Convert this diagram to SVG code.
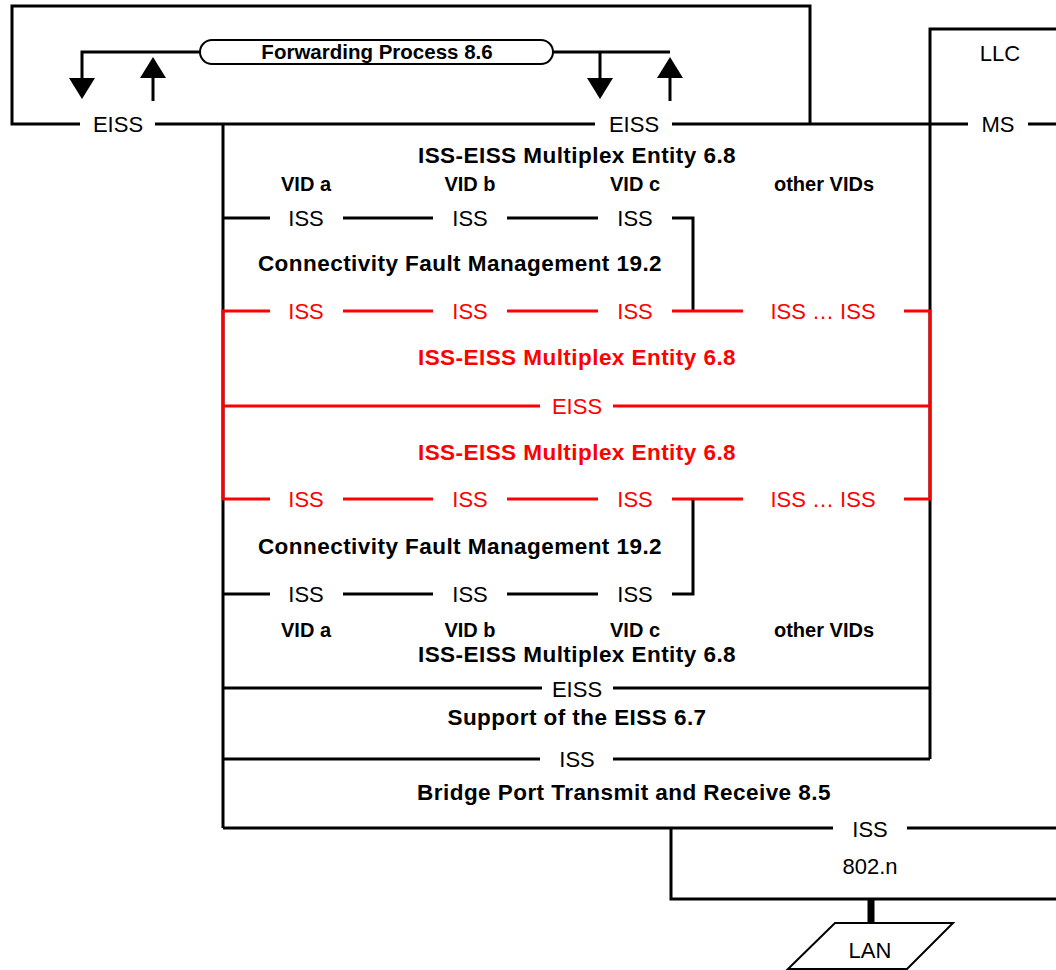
<svg xmlns="http://www.w3.org/2000/svg" width="1056" height="970" viewBox="0 0 1056 970">
<style>
text{font-family:"Liberation Sans",Arial,sans-serif;text-anchor:middle}
.n{font-size:22px}
.b{font-size:22.5px;font-weight:bold;letter-spacing:0.45px}
.v{font-size:20px;font-weight:bold}
.f{font-size:20.5px;font-weight:bold}
.r{fill:#ff0000}
.k{stroke:#000;stroke-width:3;fill:none}
.rl{stroke:#ff0000;stroke-width:3;fill:none}
</style>
<defs>
<marker id="ah" viewBox="0 0 21 26" refX="0" refY="13" markerWidth="21" markerHeight="26" orient="auto" markerUnits="userSpaceOnUse"><path d="M0,0 L21,13 L0,26 Z" fill="#000"/></marker>
</defs>
<rect width="1056" height="970" fill="#fff"/>

<g id="bridge-relay-box">
<path class="k" d="M80,124 H12 V6 H810 V124"/>
<path class="k" d="M155,124 H595 M672,124 H968 M1028,124 H1056"/>
<text class="n" x="118" y="132">EISS</text>
<text class="n" x="634" y="132">EISS</text>
</g>

<g id="forwarding-process">
<rect x="200" y="40" width="353" height="24" rx="12" fill="#fff" stroke="#000" stroke-width="2"/>
<text class="f" x="377" y="59">Forwarding Process 8.6</text>
</g>

<g id="llc">
<path class="k" d="M930,759 V29 H1056"/>
<text class="n" x="1000" y="61">LLC</text>
<text class="n" x="998" y="132">MS</text>
</g>

<g id="connectors">
<path class="k" d="M200,52 H82 V78" marker-end="url(#ah)"/>
<path class="k" d="M153,101 V78" marker-end="url(#ah)"/>
<path class="k" d="M553,52 H670 M600,52 V78" marker-end="url(#ah)"/>
<path class="k" d="M670,101 V78" marker-end="url(#ah)"/>
<path class="k" d="M223,124 V828"/>
</g>

<g id="mux-upper">
<text class="b" x="577" y="163">ISS-EISS Multiplex Entity 6.8</text>
<text class="v" x="306" y="191">VID a</text>
<text class="v" x="470" y="191">VID b</text>
<text class="v" x="635" y="191">VID c</text>
<text class="v" x="824" y="191">other VIDs</text>
<path class="k" d="M223,218 H270 M343,218 H433 M507,218 H598 M672,218 H693 V311"/>
<text class="n" x="306" y="226">ISS</text>
<text class="n" x="470" y="226">ISS</text>
<text class="n" x="635" y="226">ISS</text>
</g>

<g id="cfm-upper">
<text class="b" x="460" y="271">Connectivity Fault Management 19.2</text>
</g>

<g id="red-mux-pair">
<path class="rl" d="M270,311 H223 V499 H270 M343,311 H433 M507,311 H598 M672,311 H743 M904,311 H930 V499 H904 M343,499 H433 M507,499 H598 M672,499 H743"/>
<path class="rl" d="M223,406 H540 M613,406 H930"/>
<text class="n r" x="306" y="319">ISS</text>
<text class="n r" x="470" y="319">ISS</text>
<text class="n r" x="635" y="319">ISS</text>
<text class="n r" x="823" y="319">ISS … ISS</text>
<text class="b r" x="577" y="365">ISS-EISS Multiplex Entity 6.8</text>
<text class="n r" x="577" y="414">EISS</text>
<text class="b r" x="577" y="460">ISS-EISS Multiplex Entity 6.8</text>
<text class="n r" x="306" y="507">ISS</text>
<text class="n r" x="470" y="507">ISS</text>
<text class="n r" x="635" y="507">ISS</text>
<text class="n r" x="823" y="507">ISS … ISS</text>
</g>

<g id="cfm-lower">
<path class="k" d="M693,500 V594 H672 M598,594 H507 M433,594 H343 M270,594 H223"/>
<text class="b" x="460" y="554">Connectivity Fault Management 19.2</text>
<text class="n" x="306" y="602">ISS</text>
<text class="n" x="470" y="602">ISS</text>
<text class="n" x="635" y="602">ISS</text>
</g>

<g id="mux-lower">
<text class="v" x="306" y="637">VID a</text>
<text class="v" x="470" y="637">VID b</text>
<text class="v" x="635" y="637">VID c</text>
<text class="v" x="824" y="637">other VIDs</text>
<text class="b" x="577" y="662">ISS-EISS Multiplex Entity 6.8</text>
<path class="k" d="M223,688 H542 M613,688 H930"/>
<text class="n" x="577" y="697">EISS</text>
</g>

<g id="support-eiss">
<text class="b" x="577" y="725">Support of the EISS 6.7</text>
<path class="k" d="M223,759 H540 M613,759 H930"/>
<text class="n" x="577" y="767">ISS</text>
</g>

<g id="bridge-port">
<text class="b" x="624" y="800">Bridge Port Transmit and Receive 8.5</text>
<path class="k" d="M223,828 H833 M907,828 H1056"/>
<text class="n" x="870" y="837">ISS</text>
</g>

<g id="mac-802n">
<path class="k" d="M671,828 V899 H1056"/>
<text class="n" x="870" y="874">802.n</text>
</g>

<g id="lan">
<path d="M871,899 V923" stroke="#000" stroke-width="7"/>
<path d="M835,923 H953 L907,969 H788 Z" fill="#fff" stroke="#000" stroke-width="2"/>
<text class="n" x="870" y="958">LAN</text>
</g>
</svg>
